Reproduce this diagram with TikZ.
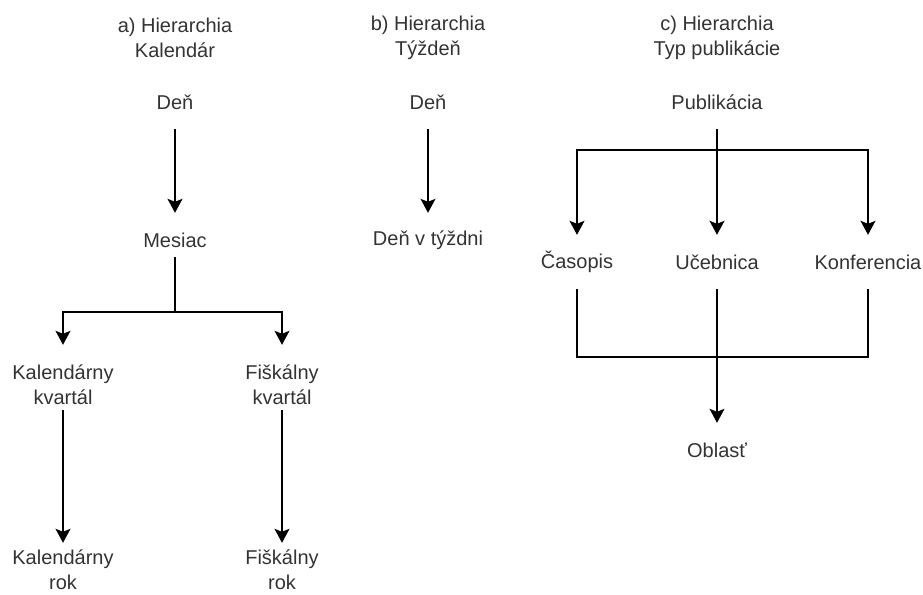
\documentclass[tikz,border=0pt]{standalone}
\usepackage{fontspec}
\setmainfont{Liberation Sans}
\usepackage{xcolor}
\usetikzlibrary{arrows.meta, positioning, calc}
\definecolor{labelgray}{RGB}{51,51,51}
\tikzset{
  levelnode/.style={
    align=center, inner sep=0pt, minimum height=54pt,
    font=\fontsize{20}{25}\selectfont, text=labelgray
  },
  titlenode/.style={
    align=center, inner sep=0pt,
    font=\fontsize{20}{25}\selectfont, text=labelgray
  },
  hierline/.style={line width=1.4pt, color=black},
  hierarrow/.style={
    hierline, -{Stealth[length=14pt, width=15pt, inset=3pt]}
  },
}
\begin{document}
\begin{tikzpicture}[x=1pt, y=-1pt]
  \useasboundingbox (0,0) rectangle (923,594);

  % Titles
  \node[titlenode] (titlea) at (175, 37.5) {a) Hierarchia\\Kalendár};
  \node[titlenode] (titleb) at (428, 37.5) {b) Hierarchia\\Týždeň};
  \node[titlenode] (titlec) at (717, 37.5) {c) Hierarchia\\Typ publikácie};

  % a) Calendar hierarchy
  \node[levelnode] (dena) at (175, 102) {Deň};
  \node[levelnode] (mesiac) at (175, 240) {Mesiac};
  \node[levelnode, minimum height=80pt] (kalkv) at (63, 385) {Kalendárny\\kvartál};
  \node[levelnode, minimum height=80pt] (fiskv) at (282, 385) {Fiškálny\\kvartál};
  \node[levelnode] (kalrok) at (63, 570) {Kalendárny\\rok};
  \node[levelnode] (fisrok) at (282, 570) {Fiškálny\\rok};
  \coordinate (splita) at (175, 312);

  \draw[hierarrow] (dena) -- (mesiac);
  \draw[hierline] ([yshift=10pt]mesiac.south) -- (splita);
  \draw[hierarrow] (splita) -| (kalkv);
  \draw[hierarrow] (splita) -| (fiskv);
  \draw[hierarrow] ([yshift=15pt]kalkv.south) -- (kalrok);
  \draw[hierarrow] ([yshift=15pt]fiskv.south) -- (fisrok);

  % b) Week hierarchy
  \node[levelnode] (denb) at (428, 102) {Deň};
  \node[levelnode] (dentyz) at (428, 240) {Deň v týždni};

  \draw[hierarrow] (denb) -- (dentyz);

  % c) Publication type hierarchy
  \node[levelnode] (publ) at (717, 102) {Publikácia};
  \node[levelnode] (casop) at (577, 262) {Časopis};
  \node[levelnode] (uceb) at (717, 262) {Učebnica};
  \node[levelnode] (konf) at (868, 262) {Konferencia};
  \node[levelnode] (oblast) at (717, 450) {Oblasť};
  \coordinate (splitc) at (717, 150);
  \coordinate (mergec) at (717, 357);

  \draw[hierline] (publ) -- (splitc);
  \draw[hierarrow] (splitc) -| (casop);
  \draw[hierarrow] (splitc) -- (uceb);
  \draw[hierarrow] (splitc) -| (konf);
  \draw[hierline] (casop) |- (mergec);
  \draw[hierline] (konf) |- (mergec);
  \draw[hierarrow] (uceb) -- (oblast);
\end{tikzpicture}
\end{document}
